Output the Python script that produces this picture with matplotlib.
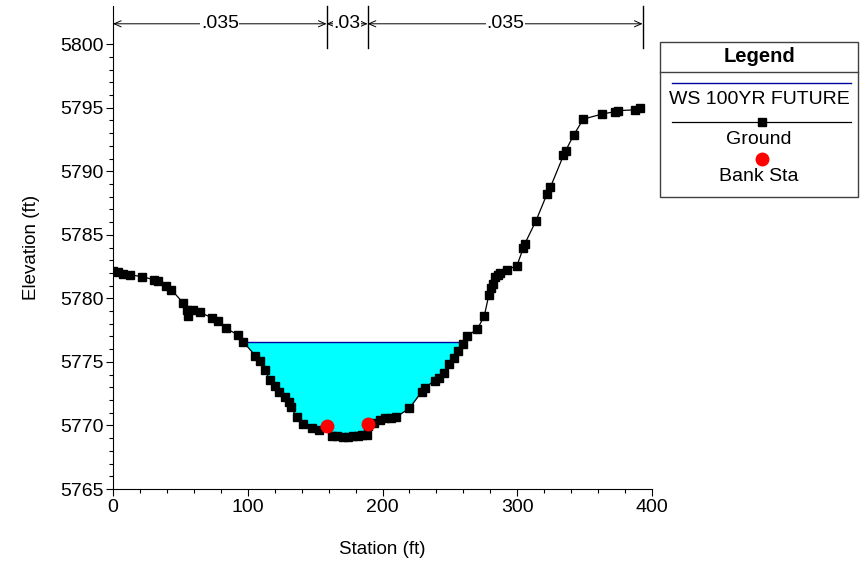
import numpy as np
import matplotlib
matplotlib.use("Agg")
import matplotlib.pyplot as plt
from matplotlib.lines import Line2D
from matplotlib.patches import Rectangle
from matplotlib.ticker import MultipleLocator, FixedLocator

plt.rcParams['font.family'] = ['Liberation Sans', 'DejaVu Sans']

# ground survey points (station ft, elevation ft)
ground_sta = [0, 3.7, 7.4, 12.4, 21.8, 30.2, 33.4, 39.1, 43.3, 52.0, 54.9, 55.7,
              59.4, 64.3, 73.8, 77.9, 83.6, 93.0, 96.5, 105.5, 109.2, 112.7,
              116.2, 120.2, 123.3, 127.3, 130.3, 132.3, 136.2, 141.2, 147.6,
              152.7, 158.5, 162.8, 166.0, 170.5, 174.3, 178.0, 181.9, 185.0,
              188.3, 189.0, 194.0, 198.4, 202.0, 206.1, 209.9, 220.0, 229.0,
              231.5, 238.6, 241.6, 245.4, 249.3, 253.1, 256.4, 259.5, 262.5,
              270.5, 275.5, 278.9, 280.5, 282.0, 283.8, 285.5, 287.1, 292.2,
              299.8, 304.4, 305.7, 313.9, 322.0, 324.6, 334.3, 336.0, 341.9,
              349.0, 363.0, 372.5, 375.0, 387.3, 391.0]
ground_elev = [5782.13, 5782.05, 5781.95, 5781.87, 5781.69, 5781.48, 5781.35,
               5780.95, 5780.69, 5779.64, 5779.11, 5778.58, 5779.11, 5778.90,
               5778.46, 5778.19, 5777.67, 5777.10, 5776.60, 5775.50, 5775.05,
               5774.35, 5773.58, 5773.10, 5772.66, 5772.25, 5771.84, 5771.44,
               5770.63, 5770.08, 5769.82, 5769.68, 5769.90, 5769.20, 5769.15,
               5769.10, 5769.10, 5769.15, 5769.20, 5769.22, 5769.25, 5769.95,
               5770.20, 5770.45, 5770.55, 5770.60, 5770.65, 5771.35, 5772.65,
               5772.98, 5773.51, 5773.73, 5774.14, 5774.81, 5775.29, 5775.84,
               5776.38, 5777.00, 5777.60, 5778.60, 5780.25, 5780.80, 5781.14,
               5781.69, 5781.85, 5781.96, 5782.23, 5782.58, 5783.93, 5784.31,
               5786.10, 5788.19, 5788.74, 5791.25, 5791.63, 5792.85, 5794.10,
               5794.50, 5794.69, 5794.77, 5794.83, 5795.00]

bank_sta = [158.5, 189.0]
bank_elev = [5769.95, 5770.10]

ws_elev = 5776.56
ws_label = "WS 100YR FUTURE"

n_breaks = [0, 158.5, 189.0, 393.0]
n_values = [".035", ".03", ".035"]

sta = np.array(ground_sta)
elev = np.array(ground_elev)

# water surface limits: where ground crosses the WS in the channel
inner = np.argmin(elev)
ws_left = np.interp(ws_elev, elev[:inner + 1][::-1], sta[:inner + 1][::-1])
ws_right = np.interp(ws_elev, elev[inner:], sta[inner:])

fig = plt.figure(figsize=(8.61, 5.63), dpi=100)
ax = fig.add_axes([113 / 861, 1 - 489 / 563, (652 - 113) / 861, (489 - 6) / 563])

xs = np.linspace(ws_left, ws_right, 800)
gs = np.interp(xs, sta, elev)
ax.fill_between(xs, gs, ws_elev, where=gs <= ws_elev, color='#00ffff', lw=0, zorder=1)
ax.plot([ws_left, ws_right], [ws_elev, ws_elev], color='#0000a0', lw=1.0, zorder=2)

ax.plot(sta, elev, color='black', lw=0.9, marker='s', markersize=6, zorder=3)
ax.plot(bank_sta, bank_elev, 'o', color='#ff0000', markersize=9, zorder=4, lw=0)

ax.set_xlim(0, 400)
ax.set_ylim(5765, 5803.0)
ax.xaxis.set_major_locator(MultipleLocator(100))
ax.xaxis.set_minor_locator(MultipleLocator(20))
ax.yaxis.set_major_locator(FixedLocator(np.arange(5765, 5801, 5)))
ax.yaxis.set_minor_locator(FixedLocator(np.arange(5765, 5801, 1)))
ax.tick_params(which='major', direction='out', length=5, width=0.8, labelsize=14, pad=2)
ax.tick_params(which='minor', direction='out', length=3, width=0.8)
for s in ['top', 'right']:
    ax.spines[s].set_visible(False)
ax.set_xlabel('Station (ft)', fontsize=13.5, labelpad=18)
ax.set_ylabel('Elevation (ft)', fontsize=13.5, labelpad=14)

# Manning's n annotation along the top
y_arrow = 5801.6
for b in n_breaks[1:]:
    ax.plot([b, b], [5799.7, 5803.0], color='black', lw=1.0, clip_on=False)
for i, n in enumerate(n_values):
    a, b = n_breaks[i], n_breaks[i + 1]
    ax.annotate('', xy=(a, y_arrow), xytext=(b, y_arrow),
                arrowprops=dict(arrowstyle='<->,head_length=0.5,head_width=0.22',
                                color='black', lw=0.7, shrinkA=0, shrinkB=0))
    ax.text((a + b) / 2, y_arrow, n, ha='center', va='center', fontsize=14,
            bbox=dict(facecolor='white', edgecolor='none', pad=0.3))

# legend box
L, R, T, B = 660 / 861, 858 / 861, 1 - 42 / 563, 1 - 197 / 563
fig.add_artist(Rectangle((L, B), R - L, T - B, transform=fig.transFigure,
                         facecolor='white', edgecolor='#404040', lw=1.0))
fig.add_artist(Line2D([L, R], [1 - 72 / 563] * 2, transform=fig.transFigure,
                      color='#404040', lw=1.0))
fig.text((L + R) / 2, 1 - 57 / 563, 'Legend', ha='center', va='center',
         fontsize=14.5, fontweight='bold')
lx0, lx1 = 672 / 861, 851 / 861
fig.add_artist(Line2D([lx0, lx1], [1 - 83 / 563] * 2, transform=fig.transFigure,
                      color='#0000a0', lw=1.0))
fig.text((L + R) / 2, 1 - 100 / 563, ws_label, ha='center', va='center', fontsize=14)
fig.add_artist(Line2D([lx0, lx1], [1 - 122 / 563] * 2, transform=fig.transFigure,
                      color='black', lw=0.9))
fig.add_artist(Line2D([762 / 861], [1 - 122 / 563], transform=fig.transFigure,
                      color='black', marker='s', markersize=6))
fig.text((L + R) / 2, 1 - 139 / 563, 'Ground', ha='center', va='center', fontsize=14)
fig.add_artist(Line2D([762 / 861], [1 - 159 / 563], transform=fig.transFigure,
                      color='#ff0000', marker='o', markersize=9))
fig.text((L + R) / 2, 1 - 177 / 563, 'Bank Sta', ha='center', va='center', fontsize=14)

fig.savefig('out.png', dpi=100)
